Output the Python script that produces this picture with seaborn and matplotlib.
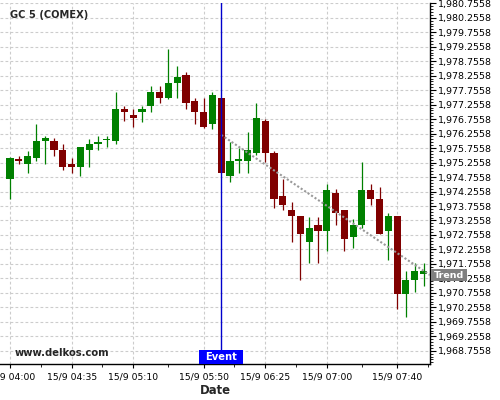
import numpy as np
import pandas as pd
import matplotlib
matplotlib.use("Agg")
import matplotlib.pyplot as plt
from matplotlib.patches import Rectangle
import matplotlib.transforms as mtransforms
import seaborn as sns

# ---------------- data ----------------
symbol = "GC 5 (COMEX)"
start_time = "2023-09-15 04:00"
open_ = [1974.70, 1975.37, 1975.22, 1975.42, 1976.01, 1976.00, 1975.69, 1975.21,
         1975.11, 1975.70, 1975.91, 1976.02, 1976.01, 1977.10, 1976.90, 1977.01,
         1977.22, 1977.69, 1977.49, 1978.01, 1978.28, 1977.38, 1977.00, 1976.60,
         1977.48, 1974.80, 1975.31, 1975.32, 1975.60, 1976.69, 1975.58, 1974.10,
         1973.62, 1973.41, 1972.52, 1973.10, 1972.90, 1974.20, 1973.62, 1972.69,
         1973.11, 1974.31, 1974.00, 1972.90, 1973.41, 1970.73, 1971.21, 1971.42]
high = [1975.46, 1975.48, 1975.66, 1976.58, 1976.18, 1976.09, 1975.89, 1975.40,
        1975.80, 1976.08, 1976.18, 1976.17, 1977.68, 1977.20, 1977.09, 1977.20,
        1977.89, 1977.89, 1979.17, 1978.58, 1978.37, 1977.47, 1977.47, 1977.69,
        1977.50, 1975.98, 1975.75, 1976.30, 1977.30, 1976.77, 1975.66, 1974.68,
        1973.88, 1973.41, 1973.39, 1973.39, 1974.50, 1974.33, 1973.62, 1973.30,
        1975.28, 1974.51, 1974.40, 1973.50, 1973.41, 1971.50, 1971.78, 1971.78]
low = [1973.99, 1975.19, 1974.88, 1975.31, 1975.19, 1975.47, 1975.00, 1974.90,
       1974.79, 1975.09, 1975.68, 1975.78, 1975.89, 1976.68, 1976.47, 1976.67,
       1976.99, 1977.30, 1977.46, 1977.47, 1977.09, 1976.58, 1976.46, 1976.40,
       1974.88, 1974.57, 1974.89, 1974.89, 1975.51, 1975.28, 1973.68, 1973.61,
       1972.50, 1971.19, 1971.78, 1971.78, 1972.20, 1973.10, 1972.19, 1972.29,
       1972.98, 1973.79, 1972.80, 1971.88, 1970.19, 1969.92, 1970.80, 1970.98]
close = [1975.41, 1975.31, 1975.48, 1976.00, 1976.10, 1975.70, 1975.11, 1975.11,
         1975.79, 1975.90, 1975.93, 1976.06, 1977.10, 1977.01, 1976.80, 1977.10,
         1977.69, 1977.49, 1978.00, 1978.21, 1977.32, 1977.01, 1976.49, 1977.59,
         1974.91, 1975.31, 1975.34, 1975.68, 1976.79, 1975.60, 1974.01, 1973.80,
         1973.42, 1972.80, 1973.00, 1972.90, 1974.31, 1973.52, 1972.63, 1973.10,
         1974.31, 1974.01, 1972.80, 1973.41, 1970.73, 1971.20, 1971.51, 1971.52]

tick_times = ["04:00", "04:35", "05:10", "05:50", "06:25", "07:00", "07:40"]
tick_labels = ["15/9 04:00", "15/9 04:35", "15/9 05:10", "15/9 05:50",
               "15/9 06:25", "15/9 07:00", "15/9 07:40"]
event_time = "06:00"
trend_times = ["06:00", "07:55"]
trend_prices = [1976.21, 1971.52]
y_ticks = [1968.7558 + 0.5 * k for k in range(25)]

# ---------------- build ----------------
n = len(open_)
times = pd.date_range(start_time, periods=n, freq="5min")
hhmm = list(times.strftime("%H:%M"))
df = pd.DataFrame({"time": times, "open": open_, "high": high, "low": low, "close": close})
df["pos"] = np.arange(n)

GREEN = "#008000"
RED = "#800000"

sns.set_style("white")
plt.rcParams["font.family"] = ["DejaVu Sans"]

fig = plt.figure(figsize=(5, 4), dpi=100)
ax = fig.add_axes([0.0, 0.09, 0.86, 0.9018])

xlim = (-1.136, 47.73)
ylim = (1968.30, 1980.7558)
ax.set_xlim(*xlim)
ax.set_ylim(*ylim)

# grid
ax.set_yticks(y_ticks)
tick_pos = [hhmm.index(t) for t in tick_times]
ax.set_xticks(tick_pos)
ax.set_xticklabels(tick_labels)
minor_x = [(a + b) / 2 for a, b in zip(tick_pos[:-1], tick_pos[1:])] + [tick_pos[-1] + 3.5]
ax.set_xticks(minor_x, minor=True)
ax.set_yticks(np.arange(1968.3558, 1980.80, 0.1), minor=True)
ax.yaxis.set_major_formatter(matplotlib.ticker.FuncFormatter(lambda v, p: f"{v:,.4f}"))
ax.grid(True, which="major", color="#cccccc", linestyle=(0, (2.5, 2)), linewidth=0.8)
ax.set_axisbelow(True)

# candles
colors = np.where(df["close"] >= df["open"], GREEN, RED)
ax.vlines(df["pos"], df["low"], df["high"], colors=colors, linewidth=0.9, zorder=3)
body_bottom = np.minimum(df["open"], df["close"])
body_h = np.maximum(np.abs(df["close"] - df["open"]), 0.06)
ax.bar(df["pos"], body_h, bottom=body_bottom, width=0.8, color=colors,
       linewidth=0, zorder=4)

# trend line (extended to the right edge)
t0 = hhmm.index(trend_times[0])
t1 = hhmm.index(trend_times[1])
slope = (trend_prices[1] - trend_prices[0]) / (t1 - t0)
tr_x = [t0, xlim[1]]
tr_y = [trend_prices[0], trend_prices[0] + slope * (xlim[1] - t0)]
sns.lineplot(x=tr_x, y=tr_y, ax=ax, color="#999999", linewidth=1.5,
             linestyle=(0, (1, 1)), zorder=4.5)

# event line
ev = hhmm.index(event_time)
ax.axvline(ev, color="#0000cc", linewidth=1.0, zorder=5)
btrans = mtransforms.blended_transform_factory(ax.transData, ax.transAxes)
ax.add_patch(Rectangle((ev - 2.5, 0.0), 4.96, 14 / 360.7, transform=btrans,
                       facecolor="#0000ff", edgecolor="none", zorder=6, clip_on=False))
ax.text(ev, 7 / 360.7, "Event", transform=btrans, ha="center", va="center",
        color="white", fontsize=7.2, fontweight="bold", zorder=7)

# trend label
ttrans = mtransforms.blended_transform_factory(ax.transAxes, ax.transData)
ax.add_patch(Rectangle((1.0023, tr_y[1] - 0.215), 0.0845, 0.43, transform=ttrans,
                       facecolor="#808080", edgecolor="none", zorder=6, clip_on=False))
ax.text(1.0023 + 0.0845 / 2, tr_y[1], "Trend", transform=ttrans, ha="center",
        va="center", color="white", fontsize=6.8, fontweight="bold", zorder=7,
        clip_on=False)

# axes styling
for s in ["left", "top"]:
    ax.spines[s].set_visible(False)
for s in ["right", "bottom"]:
    ax.spines[s].set_visible(True)
    ax.spines[s].set_color("black")
    ax.spines[s].set_linewidth(1.0)
ax.tick_params(axis="y", which="both", left=False, right=True, labelleft=False,
               labelright=True, direction="out", colors="black", labelsize=6.8)
ax.tick_params(axis="y", which="major", length=4, width=0.8, pad=1.5)
ax.tick_params(axis="y", which="minor", length=2, width=0.6)
ax.tick_params(axis="x", which="both", bottom=True, direction="out", labelsize=6.7,
               colors="black")
ax.tick_params(axis="x", which="major", length=3, width=0.8, pad=3)
ax.tick_params(axis="x", which="minor", length=2, width=0.6)
ax.set_ylabel("")
ax.set_xlabel("Date", fontsize=8.4, fontweight="bold", labelpad=2)

fig.text(10 / 500, 1 - 15 / 400, symbol, ha="left", va="center",
         fontsize=7.1, fontweight="bold")
fig.text(15 / 500, 1 - 353 / 400, "www.delkos.com", ha="left", va="center",
         fontsize=7.2, fontweight="bold")

fig.savefig("out.png", dpi=100)
